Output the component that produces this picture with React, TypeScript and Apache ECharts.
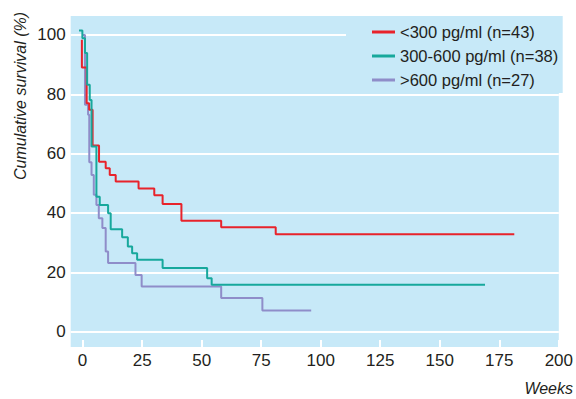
import React, { useEffect, useRef } from "react";
import * as echarts from "echarts";

const seriesNames = ["<300 pg/ml (n=43)", "300-600 pg/ml (n=38)", ">600 pg/ml (n=27)"];

const redWeeks = [-0.3, -0.3, 1.7, 2.75, 4.2, 6.9, 9.7, 11.4, 13.9, 23.5, 30.1, 33.6, 41.5, 58.2, 81.1, 181.3];
const redSurvival = [98.4, 89.0, 77.0, 74.8, 62.7, 57.3, 55.1, 52.8, 50.6, 48.2, 46.0, 43.0, 37.4, 35.2, 32.8, 32.8];

const tealWeeks = [-1.5, -0.1, 1.0, 1.9, 3.0, 3.75, 5.8, 7.2, 10.7, 11.8, 16.6, 19.0, 20.8, 22.9, 33.6, 52.3, 54.2, 169];
const tealSurvival = [101.5, 98.9, 93.9, 83.2, 78.1, 62.4, 45.5, 42.7, 39.9, 34.5, 31.8, 28.7, 26.4, 24.2, 21.4, 18.0, 15.75, 15.75];

const purpleWeeks = [0, 1.0, 2.3, 2.8, 3.75, 4.7, 5.8, 6.8, 8.3, 9.7, 10.7, 22.2, 24.8, 58.2, 75.5, 96];
const purpleSurvival = [100, 76.5, 73.1, 57.1, 52.8, 46.1, 42.7, 38.2, 34.9, 27.0, 23.1, 19.1, 15.2, 11.3, 7.1, 7.1];

const xTicks = [0, 25, 50, 75, 100, 125, 150, 175, 200];
const yTicks = [0, 20, 40, 60, 80, 100];

const colors = ["#e8232b", "#17a89c", "#8f8dc9"];
const plotBg = "#c7e9f8";
const font = "Arial, 'Liberation Sans', Helvetica, sans-serif";

const zip = (a: number[], b: number[]) => a.map((v, i) => [v, b[i]]);

export default function App() {
  const ref = useRef<HTMLDivElement>(null);
  useEffect(() => {
    if (!ref.current) return;
    const chart = echarts.init(ref.current, undefined, { renderer: "svg" });
    const mk = (name: string, data: number[][], color: string, z: number) => ({
      name,
      type: "line",
      step: "end",
      data,
      showSymbol: false,
      clip: false,
      z,
      lineStyle: { color, width: 2 },
      itemStyle: { color },
    });
    chart.setOption({
      animation: false,
      grid: {
        left: 70.7,
        right: 13.3,
        top: 16,
        bottom: 52,
        show: true,
        backgroundColor: plotBg,
        borderWidth: 0,
      },
      xAxis: {
        type: "value",
        min: -5,
        max: 200,
        minInterval: 25,
        maxInterval: 25,
        axisLine: { show: false, onZero: false },
        axisTick: {
          show: true,
          inside: true,
          length: 7,
          customValues: xTicks,
          lineStyle: { color: "#ffffff", width: 2 },
        },
        axisLabel: {
          customValues: xTicks,
          color: "#231f20",
          fontSize: 17,
          fontFamily: font,
          margin: 5,
        },
        splitLine: { show: false },
      },
      yAxis: {
        type: "value",
        min: -5.2,
        max: 106.4,
        minInterval: 20,
        maxInterval: 20,
        axisLine: { show: false, onZero: false },
        axisTick: { show: false },
        axisLabel: {
          customValues: yTicks,
          color: "#231f20",
          fontSize: 17,
          fontFamily: font,
          margin: 5,
        },
        splitLine: {
          show: true,
          showMinLine: false,
          showMaxLine: false,
          lineStyle: { color: "#ffffff", width: 2 },
        },
      },
      legend: {
        data: seriesNames,
        orient: "vertical",
        left: 372,
        top: 23,
        padding: 0,
        itemGap: 6,
        itemWidth: 23,
        itemHeight: 3,
        icon: "rect",
        z: 5,
        textStyle: { fontSize: 16.5, lineHeight: 18, color: "#231f20", fontFamily: font },
      },
      graphic: [
        {
          type: "rect",
          z: 1,
          silent: true,
          shape: { x: 346, y: 16, width: 216.7, height: 77 },
          style: { fill: plotBg },
        },
        {
          type: "text",
          x: 20,
          y: 96,
          rotation: Math.PI / 2,
          style: {
            text: "Cumulative survival (%)",
            fontSize: 16,
            fontStyle: "italic",
            fontFamily: font,
            fill: "#231f20",
            align: "center",
            verticalAlign: "middle",
          },
        },
        {
          type: "text",
          x: 573,
          y: 388,
          style: {
            text: "Weeks",
            fontSize: 16,
            fontStyle: "italic",
            fontFamily: font,
            fill: "#231f20",
            align: "right",
            verticalAlign: "middle",
          },
        },
      ],
      series: [
        mk(seriesNames[2], zip(purpleWeeks, purpleSurvival), colors[2], 2),
        mk(seriesNames[0], zip(redWeeks, redSurvival), colors[0], 3),
        mk(seriesNames[1], zip(tealWeeks, tealSurvival), colors[1], 4),
      ],
    });
    return () => chart.dispose();
  }, []);
  return <div ref={ref} style={{ width: 576, height: 399, position: "absolute", left: 0, top: 0 }} />;
}
